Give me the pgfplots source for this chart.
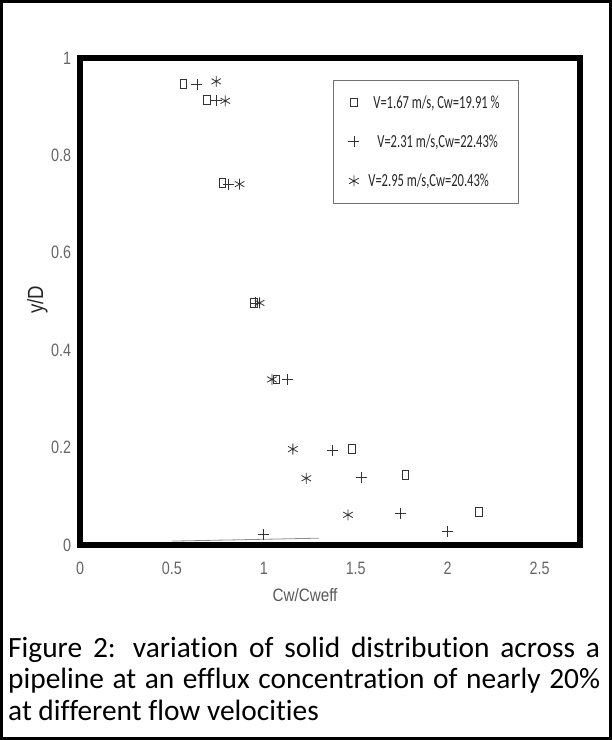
\documentclass[border=0pt]{standalone}
\usepackage{fontspec}
\setmainfont{Carlito}[Ligatures=NoCommon]
\newfontfamily\tickf[FakeStretch=0.8]{Liberation Sans}
\newfontfamily\labf[FakeStretch=0.85]{Liberation Sans}
\newfontfamily\legf[FakeStretch=0.68,Ligatures=NoCommon]{Carlito}
\usepackage{pgfplots}
\pgfplotsset{compat=1.18}
\begin{document}
\begin{tikzpicture}[x=1bp,y=1bp]
\useasboundingbox (0,0) rectangle (612,740);
\draw[line width=3bp] (1.5,1.5) rectangle (610.5,738.5);
\begin{axis}[
  at={(80bp,195bp)}, anchor=south west,
  width=500bp, height=487bp, scale only axis,
  xmin=0, xmax=2.72, ymin=0, ymax=1,
  axis line style={line width=5.5bp, black},
  xtick={0,0.5,1,1.5,2,2.5},
  ytick={0,0.2,0.4,0.6,0.8,1},
  /pgf/number format/assume math mode=true,
  tick label style={font=\tickf\fontsize{18}{20}\selectfont, text=black!60},
  xticklabel style={yshift=-11bp},
  yticklabel style={xshift=-3bp},
  tick align=outside,
  major tick length=2.5bp,
  tick style={line width=0.4bp, black!50},
  xlabel={Cw/Cweff},
  xlabel style={font=\labf\fontsize{18}{20}\selectfont, text=black!65, at={(axis description cs:0.45,-0.103)}, anchor=center},
  ylabel={y/D},
  ylabel style={font=\labf\fontsize{22}{24}\selectfont, text=black!85, at={(axis description cs:-0.085,0.503)}, anchor=center, rotate=0},
  legend style={at={(rel axis cs:0.506,0.955)}, anchor=north west, draw=black!55, line width=0.8bp,
    font=\legf\fontsize{18.5}{20}\selectfont, text=black!85, row sep=21bp, inner xsep=15bp, inner ysep=13bp},
  legend cell align=left,
  clip=false,
]
\addplot[only marks, mark=square, black!80, mark size=3.4bp, mark options={line width=0.8bp, yscale=1.25}]
coordinates {(0.563,0.947) (0.690,0.914) (0.775,0.743) (0.944,0.497) (1.068,0.340) (1.480,0.197) (1.770,0.144) (2.169,0.068)};
\addlegendentry{\hspace*{12bp}V=1.67 m/s, Cw=19.91 \%\hspace*{2bp}}
\addplot[only marks, mark=+, black!80, mark size=5.5bp, mark options={line width=0.8bp}]
coordinates {(0.636,0.945) (0.741,0.912) (0.808,0.741) (0.955,0.497) (1.129,0.339) (1.371,0.194) (1.529,0.139) (1.743,0.065) (1.997,0.028) (1.0,0.022)};
\addlegendentry{\hspace*{16bp}V=2.31 m/s,Cw=22.43\%}
\addplot[only marks, mark=asterisk, black!80, mark size=5.5bp, mark options={line width=0.8bp}]
coordinates {(0.741,0.952) (0.790,0.912) (0.868,0.741) (0.977,0.497) (1.044,0.340) (1.158,0.197) (1.231,0.137) (1.458,0.062)};
\addlegendentry{\hspace*{7bp}V=2.95 m/s,Cw=20.43\%}
\addplot[black!45, line width=0.8bp, forget plot] coordinates {(0.5,0.008) (1.3,0.014)};
\end{axis}
\node[anchor=north west, text width=592bp, align=justify, inner sep=0pt,
  font=\fontsize{29.5}{31.5}\selectfont] at (8,103)
  {\hyphenpenalty=10000 Figure 2: variation of solid distribution across a\linebreak pipeline at an efflux concentration of nearly 20\%\linebreak at different flow velocities};
\end{tikzpicture}
\end{document}
